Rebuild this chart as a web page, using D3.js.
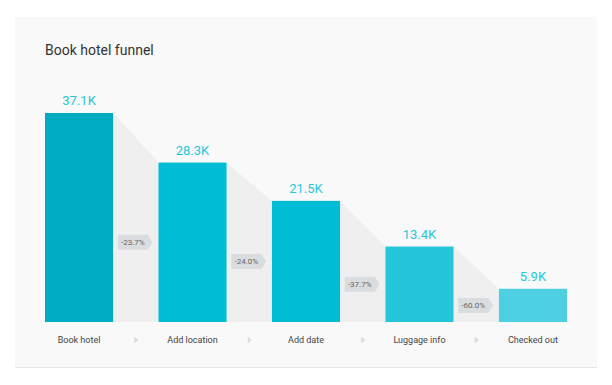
<!DOCTYPE html>
<html>
<head>
<meta charset="utf-8">
<script src="https://cdn.jsdelivr.net/npm/d3@7"></script>
<style>
  body { margin: 0; background: #fff; font-family: Roboto, "Noto Sans", sans-serif; }
</style>
</head>
<body>
<div id="graphic"></div>
<script>
// funnel steps
var steps = ["Book hotel", "Add location", "Add date", "Luggage info", "Checked out"];
var counts = [37.1, 28.3, 21.5, 13.4, 5.9]; // thousands
var valueLabels = ["37.1K", "28.3K", "21.5K", "13.4K", "5.9K"];
var dropLabels = ["-23.7%", "-24.0%", "-37.7%", "-60.0%"];
var barColors = ["#00acc1", "#00bcd4", "#00bcd4", "#26c6da", "#4dd0e1"];

var W = 612, H = 385;
var svg = d3.select("#graphic").append("svg")
  .attr("width", W)
  .attr("height", H);

// card
svg.append("rect")
  .attr("x", 15).attr("y", 18).attr("width", 582).attr("height", 350)
  .attr("fill", "#e6e6e6");
svg.append("rect")
  .attr("x", 15).attr("y", 17).attr("width", 582).attr("height", 350)
  .attr("fill", "#f9f9f9");

svg.append("text")
  .attr("x", 45).attr("y", 55)
  .attr("font-size", 14)
  .attr("fill", "#333")
  .text("Book hotel funnel");

var baseY = 322, topY = 113;

var x = d3.scaleBand()
  .domain(steps)
  .range([45, 567])
  .paddingInner(0.4)
  .paddingOuter(0);

var y = d3.scaleLinear()
  .domain([0, d3.max(counts)])
  .range([baseY, topY]);

var data = steps.map(function(s, i) {
  return {step: s, value: counts[i], label: valueLabels[i], color: barColors[i]};
});

// grey connectors between bars
var gaps = data.slice(0, -1).map(function(d, i) {
  return {from: d, to: data[i + 1], drop: dropLabels[i]};
});

svg.selectAll(".gap")
  .data(gaps)
  .enter().append("path")
  .attr("class", "gap")
  .attr("fill", "#efefef")
  .attr("d", function(g) {
    var x0 = x(g.from.step) + x.bandwidth(), x1 = x(g.to.step);
    return "M" + x0 + "," + y(g.from.value) +
      "L" + x1 + "," + y(g.to.value) +
      "L" + x1 + "," + baseY +
      "L" + x0 + "," + baseY + "Z";
  });

// bars
svg.selectAll(".bar")
  .data(data)
  .enter().append("rect")
  .attr("class", "bar")
  .attr("x", function(d) { return x(d.step); })
  .attr("y", function(d) { return y(d.value); })
  .attr("width", x.bandwidth())
  .attr("height", function(d) { return baseY - y(d.value); })
  .attr("fill", function(d) { return d.color; });

// value labels
svg.selectAll(".val")
  .data(data)
  .enter().append("text")
  .attr("class", "val")
  .attr("x", function(d) { return x(d.step) + x.bandwidth() / 2; })
  .attr("y", function(d) { return y(d.value) - 8; })
  .attr("text-anchor", "middle")
  .attr("font-size", 13)
  .attr("fill", "#26c6da")
  .text(function(d) { return d.label; });

// drop tags
var tag = svg.selectAll(".tag")
  .data(gaps)
  .enter().append("g")
  .attr("class", "tag")
  .attr("transform", function(g) {
    var cx = x(g.from.step) + x.bandwidth() + (x.step() - x.bandwidth()) / 2;
    var cy = (y(g.to.value) + baseY) / 2;
    return "translate(" + cx + "," + cy + ")";
  });
tag.append("path")
  .attr("d", "M-18,-7.5L12,-7.5L17,0L12,7.5L-18,7.5Z")
  .attr("fill", "#dadde0");
tag.append("text")
  .attr("x", -3).attr("y", 3)
  .attr("text-anchor", "middle")
  .attr("font-size", 8)
  .attr("fill", "#666")
  .text(function(g) { return g.drop; });

// category labels
svg.selectAll(".cat")
  .data(data)
  .enter().append("text")
  .attr("class", "cat")
  .attr("x", function(d) { return x(d.step) + x.bandwidth() / 2; })
  .attr("y", 343)
  .attr("text-anchor", "middle")
  .attr("font-size", 9)
  .attr("fill", "#444")
  .text(function(d) { return d.step; });

// small arrows between category labels
svg.selectAll(".arrow")
  .data(gaps)
  .enter().append("path")
  .attr("class", "arrow")
  .attr("fill", "#dcdcdc")
  .attr("transform", function(g) {
    var cx = x(g.from.step) + x.bandwidth() + (x.step() - x.bandwidth()) / 2;
    return "translate(" + cx + ",340)";
  })
  .attr("d", "M-1.5,-3.5L2.5,0L-1.5,3.5Z");
</script>
</body>
</html>
